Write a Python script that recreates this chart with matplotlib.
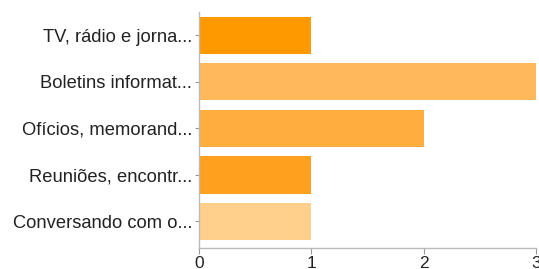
import matplotlib
matplotlib.use("Agg")
import matplotlib.pyplot as plt

categories = ["TV, rádio e jorna...", "Boletins informat...", "Ofícios, memorand...",
              "Reuniões, encontr...", "Conversando com o..."]
values = [1, 3, 2, 1, 1]
colors = ["#ff9900", "#ffb95a", "#ffad3f", "#ffa11f", "#ffd08c"]
xticks = [0, 1, 2, 3]

plt.rcParams['font.family'] = ['Liberation Sans', 'DejaVu Sans']

W, H = 539, 269
fig = plt.figure(figsize=(W/100, H/100), dpi=100)
ax = fig.add_axes([199/W, 1-248/H, (536-199)/W, (248-12)/H])

ypos = list(range(len(categories)))
ax.barh(ypos, values, height=0.8, color=colors, edgecolor='none')
ax.set_xlim(0, 3)
ax.set_ylim(4.57, -0.5)
ax.set_yticks(ypos)
ax.set_yticklabels(categories, fontsize=13.2, color='#222222')
ax.set_xticks(xticks)
ax.set_xticklabels([str(t) for t in xticks], fontsize=12.5, color='#222222')
for s in ['top', 'right']:
    ax.spines[s].set_visible(False)
for s in ['left', 'bottom']:
    ax.spines[s].set_color('#bbbbbb')
    ax.spines[s].set_linewidth(1)
ax.tick_params(axis='y', length=3, color='#999999', pad=2)
ax.tick_params(axis='x', length=4, color='#999999', pad=2)

fig.savefig('out.png', dpi=100)
